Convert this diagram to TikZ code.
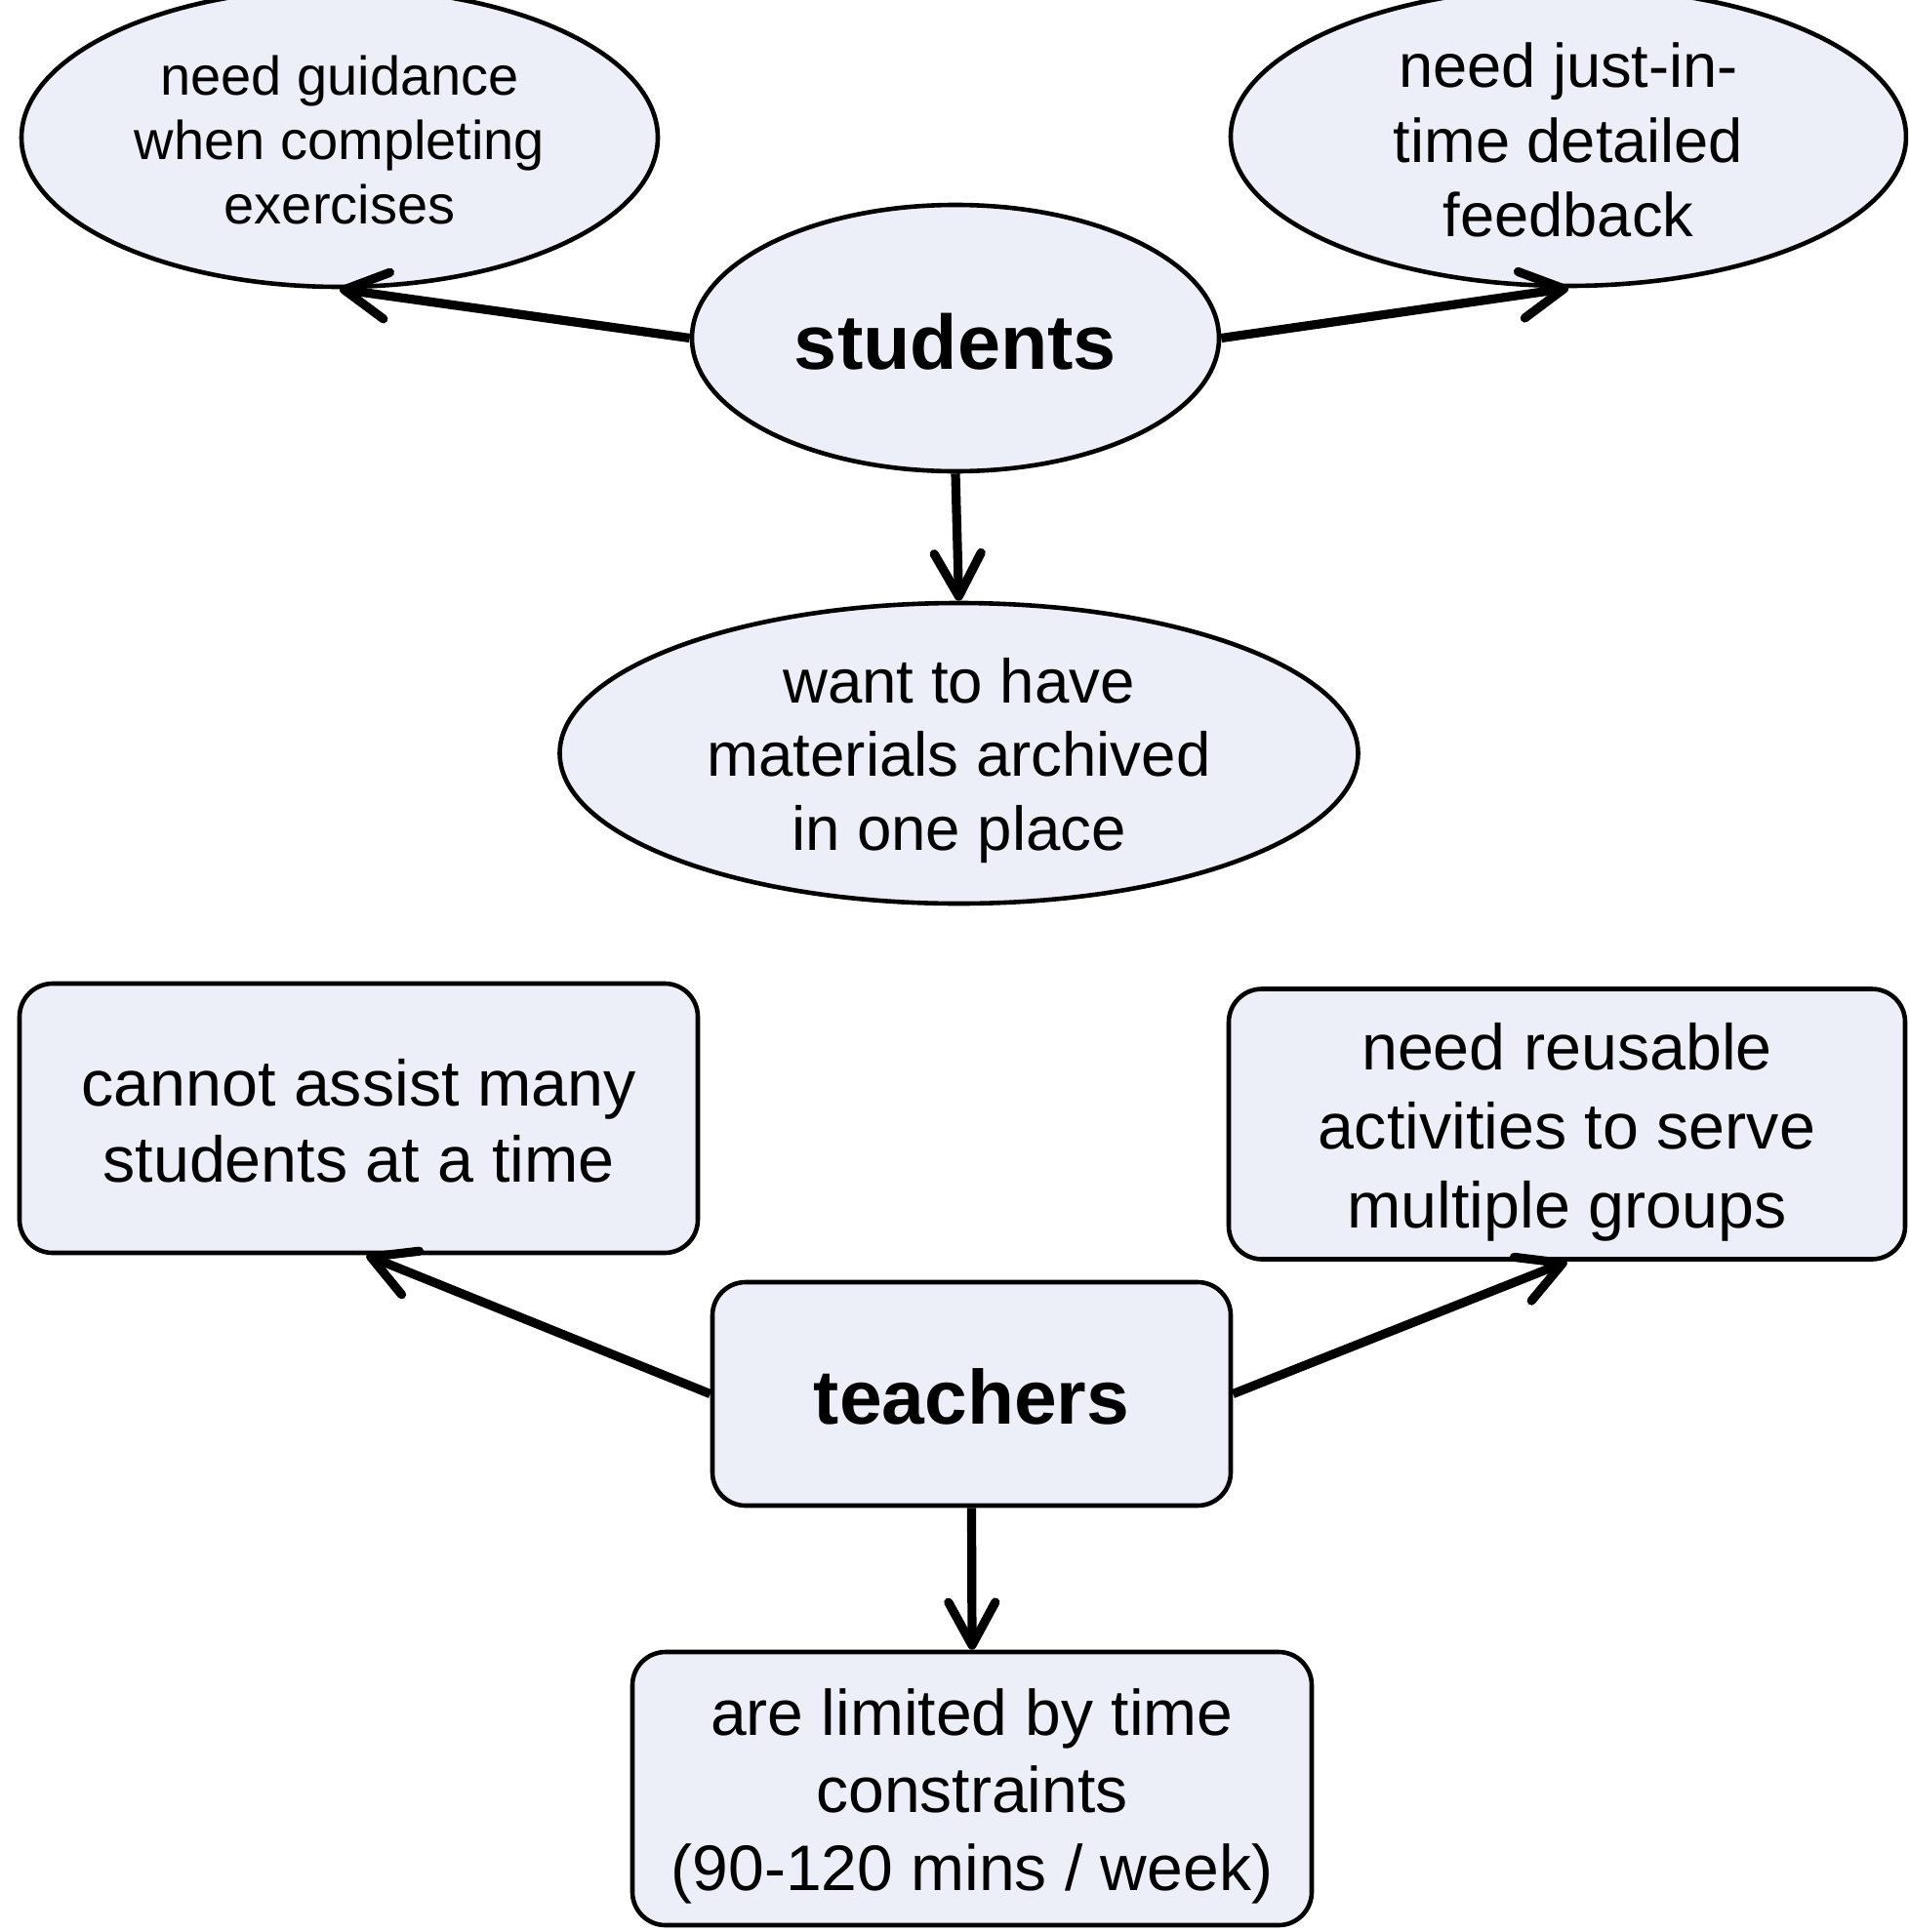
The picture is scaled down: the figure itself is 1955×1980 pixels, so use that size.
\documentclass[tikz,border=0pt]{standalone}
\usepackage{fontspec}
\setmainfont{Liberation Sans}
\usetikzlibrary{shapes.geometric,arrows.meta}
\definecolor{nodefill}{RGB}{236,239,247}
\tikzset{
  ell/.style={ellipse,draw=black,line width=2.3pt,fill=nodefill,inner sep=0pt},
  rbox/.style={rectangle,rounded corners=17pt,draw=black,line width=2.3pt,fill=nodefill,inner sep=0pt},
  txt/.style={align=center,inner sep=0pt},
  arr/.style={line width=4.6pt,-{Straight Barb[length=22pt,width=24pt,round]}},
}
\begin{document}
\begin{tikzpicture}[x=0.5pt,y=-0.5pt]
\useasboundingbox (0,0) rectangle (1955,1980);
\begin{scope}
\clip (0,0) rectangle (1955,1980);
\node[ell,minimum width=326pt,minimum height=153pt,
  label={[txt,font=\fontsize{28}{33}\selectfont,yshift=-1.3pt]center:{need guidance\\when completing\\exercises}}] (guid) at (348,141) {};
\node[ell,minimum width=346pt,minimum height=153pt,
  label={[txt,font=\fontsize{31.6}{38.3}\selectfont,yshift=-1.8pt]center:{need just-in-\\time detailed\\feedback}}] (feed) at (1607,140) {};
\end{scope}
\node[ell,minimum width=270pt,minimum height=136.5pt,
  label={[txt,font=\fontsize{39.6}{46}\selectfont\bfseries,yshift=-1.9pt]center:{students}}] (stu) at (979,346.5) {};
\node[ell,minimum width=409pt,minimum height=154pt,
  label={[txt,font=\fontsize{31.8}{37.8}\selectfont,yshift=-3.7pt]center:{want to have\\materials archived\\in one place}}] (arch) at (982.5,772) {};

\node[rbox,minimum width=347.5pt,minimum height=138pt,
  label={[txt,font=\fontsize{33.2}{39}\selectfont,yshift=-1.3pt]center:{cannot assist many\\students at a time}}] (cann) at (367.5,1146) {};
\node[rbox,minimum width=346.5pt,minimum height=138.5pt,
  label={[txt,font=\fontsize{33.2}{40.6}\selectfont,yshift=-4.2pt]center:{need reusable\\activities to serve\\multiple groups}}] (reus) at (1605.5,1152) {};
\node[rbox,minimum width=265.5pt,minimum height=114.5pt,
  label={[txt,font=\fontsize{39.3}{46}\selectfont\bfseries,yshift=-1.3pt]center:{teachers}}] (tea) at (995.5,1428.5) {};
\node[rbox,minimum width=348pt,minimum height=140pt,
  label={[txt,font=\fontsize{33}{39.8}\selectfont,yshift=-3.9pt]center:{are limited by time\\constraints\\(90-120 mins / week)}}] (lim) at (996,1833) {};

\draw[arr] (stu.west) -- (guid.south);
\draw[arr] (stu.east) -- (feed.south);
\draw[arr] (stu.south) -- (arch.north);
\draw[arr] (tea.west) -- ([xshift=4pt]cann.south);
\draw[arr] (tea.east) -- (reus.south);
\draw[arr] (tea.south) -- (lim.north);
\end{tikzpicture}
\end{document}
